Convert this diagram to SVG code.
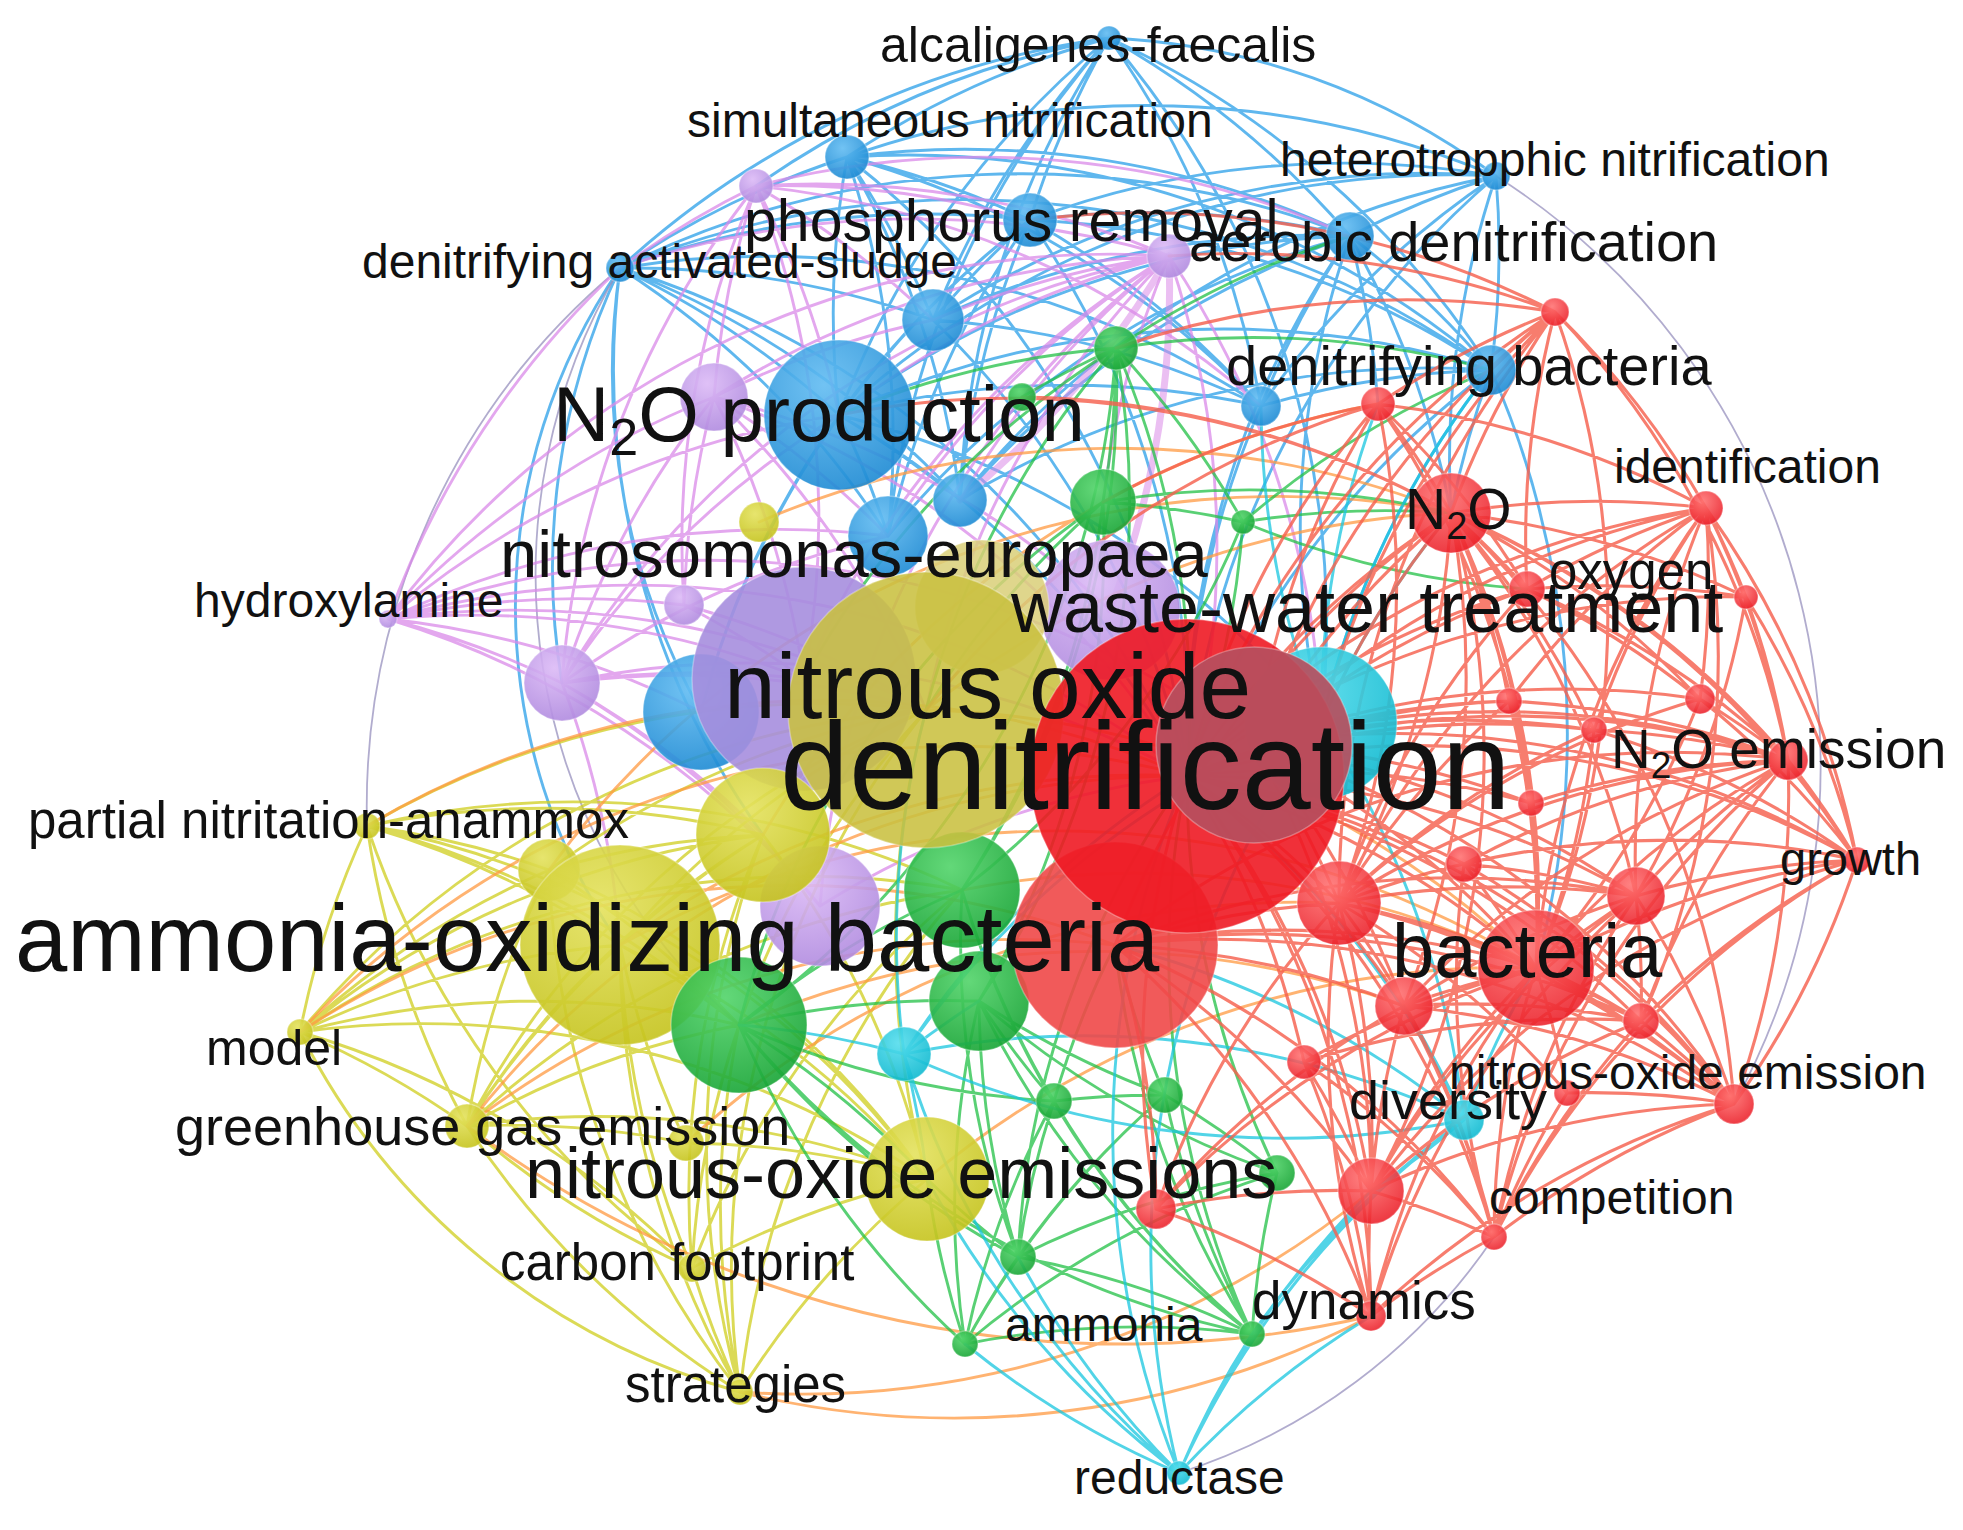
<svg xmlns="http://www.w3.org/2000/svg" width="1963" height="1530" viewBox="0 0 1963 1530">
<defs>
<radialGradient id="gr" cx="40%" cy="30%" r="75%"><stop offset="0" stop-color="#ff7070"/><stop offset="1" stop-color="#ea1a24"/></radialGradient>
<radialGradient id="gb" cx="40%" cy="30%" r="75%"><stop offset="0" stop-color="#62bcf2"/><stop offset="1" stop-color="#1a88d2"/></radialGradient>
<radialGradient id="gp" cx="40%" cy="30%" r="75%"><stop offset="0" stop-color="#dcbaf6"/><stop offset="1" stop-color="#ae88de"/></radialGradient>
<radialGradient id="gy" cx="40%" cy="30%" r="75%"><stop offset="0" stop-color="#e4e25e"/><stop offset="1" stop-color="#c4c21a"/></radialGradient>
<radialGradient id="gg" cx="40%" cy="30%" r="75%"><stop offset="0" stop-color="#52d46a"/><stop offset="1" stop-color="#15a333"/></radialGradient>
<radialGradient id="gc" cx="40%" cy="30%" r="75%"><stop offset="0" stop-color="#55dded"/><stop offset="1" stop-color="#0cb8cf"/></radialGradient>
</defs>
<style>
.e{fill:none;stroke-width:2.9;stroke-linecap:round;stroke-opacity:.75}
.eb{stroke:#2a9fe8}.ep{stroke:#da8ae8}.ey{stroke:#cfcd1e}.eo{stroke:#ff9a42}.eg{stroke:#22c046}.ec{stroke:#18c6df}.er{stroke:#f5604e;stroke-opacity:.82;stroke-width:3.1}.ex{stroke:#9790be;stroke-width:1.8}
circle{stroke:#ffffff;stroke-opacity:.3;stroke-width:1.5}
.r{fill:url(#gr);fill-opacity:.88}.b{fill:url(#gb);fill-opacity:.9}.p{fill:url(#gp);fill-opacity:.9}.y{fill:url(#gy);fill-opacity:.9}.g{fill:url(#gg);fill-opacity:.9}.c{fill:url(#gc);fill-opacity:.9}
.t{font-family:"Liberation Sans",Arial,Helvetica,sans-serif;fill:#111}
</style>
<rect width="1963" height="1530" fill="#fff"/>
<g id="connectors">
<path class="e eb" d="M847 157A900 900 0 0 1 1109 38M1030 220A900 900 0 0 1 1109 38M1109 38A900 900 0 0 1 1350 236M1109 38A700 700 0 0 1 1496 176M620 268A900 900 0 0 1 1109 38M933 320A900 900 0 0 1 1109 38M839 415A900 900 0 0 1 1109 38M1109 38A900 900 0 0 1 1491 370M1109 38A900 900 0 0 1 1261 406M960 500A900 900 0 0 1 1109 38M756 186A900 900 0 0 1 1109 38M888 536A900 900 0 0 1 1109 38M1109 38A900 900 0 0 1 1321 723M620 268A900 900 0 0 1 847 157M847 157A900 900 0 0 1 1030 220M847 157A900 900 0 0 1 1350 236M847 157A900 900 0 0 1 1496 176M847 157A900 900 0 0 1 933 320M839 415A900 900 0 0 1 847 157M847 157A900 900 0 0 1 1261 406M847 157A900 900 0 0 1 1491 370M847 157A900 900 0 0 1 960 500M847 157A900 900 0 0 1 888 536M847 157A900 900 0 0 1 1187 776M620 268A900 900 0 0 1 1030 220M620 268A900 900 0 0 1 1350 236M620 268A900 900 0 0 1 839 415M620 268A900 900 0 0 1 933 320M620 268A900 900 0 0 1 888 536M620 268A900 900 0 0 1 960 500M620 268A900 900 0 0 1 1261 406M620 268A900 900 0 0 1 1491 370M701 712A700 700 0 0 1 620 268M620 945A600 600 0 0 1 620 268M562 683A700 700 0 0 1 620 268M620 268A900 900 0 0 1 1187 776M763 835A800 800 0 0 1 620 268M1030 220A900 900 0 0 1 1496 176M1350 236A900 900 0 0 1 1496 176M1496 176A900 900 0 0 1 1491 370M1261 406A900 900 0 0 1 1496 176M933 320A900 900 0 0 1 1496 176M839 415A900 900 0 0 1 1496 176M960 500A900 900 0 0 1 1496 176M1451 513A900 900 0 0 1 1496 176M1187 776A900 900 0 0 1 1496 176M1030 220A900 900 0 0 1 1350 236M933 320A900 900 0 0 1 1350 236M839 415A900 900 0 0 1 1350 236M1350 236A900 900 0 0 1 1491 370M1261 406A900 900 0 0 1 1350 236M960 500A900 900 0 0 1 1350 236M888 536A900 900 0 0 1 1350 236M1187 776A900 900 0 0 1 1350 236M1321 723A900 900 0 0 1 1350 236M1350 236A900 900 0 0 1 1451 513M1350 236A900 900 0 0 1 1378 404M933 320A900 900 0 0 1 1030 220M839 415A900 900 0 0 1 1030 220M960 500A900 900 0 0 1 1030 220M888 536A900 900 0 0 1 1030 220M1030 220A900 900 0 0 1 1491 370M1030 220A900 900 0 0 1 1261 406M1030 220A900 900 0 0 1 1187 776M701 712A900 900 0 0 1 1030 220M839 415A900 900 0 0 1 1491 370M1261 406A900 900 0 0 1 1491 370M1451 513A900 900 0 0 1 1491 370M1187 776A900 900 0 0 1 1491 370M1321 723A900 900 0 0 1 1491 370M960 500A900 900 0 0 1 1491 370M1491 370A900 900 0 0 1 1536 968M701 712A900 900 0 0 1 839 415M839 415A900 900 0 0 1 888 536M839 415A900 900 0 0 1 960 500M839 415A900 900 0 0 1 1261 406M839 415A900 900 0 0 1 1187 776M839 415A900 900 0 0 1 1321 723M1187 776A900 900 0 0 1 1261 406M933 320A900 900 0 0 1 1261 406M933 320A900 900 0 0 1 1187 776"/>
<path class="e ex" d="M1496 176A700 700 0 0 1 1734 1104M739 1025A600 600 0 0 1 620 268M367 826A700 700 0 0 1 620 268M1494 1237A600 600 0 0 1 1179 1473"/>
<path class="e ep" d="M756 186A900 900 0 0 1 1030 220M756 186A900 900 0 0 1 1169 256M714 397A900 900 0 0 1 756 186M756 186A900 900 0 0 1 839 415M756 186A900 900 0 0 1 933 320M756 186A900 900 0 0 1 804 679M562 683A900 900 0 0 1 756 186M684 605A900 900 0 0 1 756 186M620 268A900 900 0 0 1 756 186M756 186A900 900 0 0 1 1350 236M756 186A900 900 0 0 1 1261 406M714 397A900 900 0 0 1 1169 256M804 679A900 900 0 0 1 1169 256M839 415A900 900 0 0 1 1169 256M933 320A900 900 0 0 1 1169 256M888 536A900 900 0 0 1 1169 256M960 500A900 900 0 0 1 1169 256M926 710A900 900 0 0 1 1169 256M562 683A900 900 0 0 1 1169 256M1169 256A900 900 0 0 1 1187 776M1169 256A900 900 0 0 1 1321 723M1103 502A900 900 0 0 1 1169 256M820 906A900 900 0 0 1 1169 256M620 268A900 900 0 0 1 1169 256M388 619A900 900 0 0 1 714 397M388 619A900 900 0 0 1 804 679M388 619A900 900 0 0 1 562 683M388 619A900 900 0 0 1 684 605M388 619A900 900 0 0 1 839 415M388 619A900 900 0 0 1 888 536M388 619A900 900 0 0 1 926 710M388 619A900 900 0 0 1 820 906M388 619A900 900 0 0 1 1187 776M388 619A900 900 0 0 1 620 268M388 619A900 900 0 0 1 701 712M388 619A900 900 0 0 1 1169 256M388 619A900 900 0 0 1 1254 745M562 683A900 900 0 0 1 804 679M562 683A900 900 0 0 1 714 397M562 683A900 900 0 0 1 620 945M562 683A900 900 0 0 1 763 835M562 683A900 900 0 0 1 820 906M562 683A900 900 0 0 1 839 415M562 683A900 900 0 0 1 888 536M562 683A900 900 0 0 1 926 710M562 683A900 900 0 0 1 1187 776M714 397A900 900 0 0 1 804 679M714 397A900 900 0 0 1 888 536M684 605A900 900 0 0 1 714 397M714 397A900 900 0 0 1 926 710M714 397A900 900 0 0 1 1187 776M714 397A900 900 0 0 1 933 320M714 397A900 900 0 0 1 1110 610M684 605A900 900 0 0 1 804 679M684 605A900 900 0 0 1 926 710M820 906A900 900 0 0 1 1187 776"/>
<path class="e ep" style="stroke-width:7;stroke-opacity:.55" d="M1169 256A900 900 0 0 1 1110 610M1169 256A900 900 0 0 1 960 500"/>
<path class="e ey" d="M300 1032A900 900 0 0 1 620 945M300 1032A900 900 0 0 1 549 870M300 1032A900 900 0 0 1 763 835M300 1032A900 900 0 0 1 467 1126M300 1032A900 900 0 0 1 927 1179M300 1032A900 900 0 0 1 692 1268M300 1032A900 900 0 0 1 367 826M300 1032A900 900 0 0 1 926 710M300 1032A900 900 0 0 1 739 1025M740 1392A700 700 0 0 1 300 1032M740 1392A900 900 0 0 1 467 1126M367 826A900 900 0 0 1 620 945M367 826A900 900 0 0 1 549 870M367 826A900 900 0 0 1 763 835M367 826A900 900 0 0 1 926 710M367 826A900 900 0 0 1 927 1179M467 1126A900 900 0 0 1 367 826M692 1268A900 900 0 0 1 367 826M367 826A900 900 0 0 1 739 1025M467 1126A900 900 0 0 1 620 945M467 1126A900 900 0 0 1 549 870M467 1126A900 900 0 0 1 927 1179M692 1268A900 900 0 0 1 467 1126M467 1126A900 900 0 0 1 763 835M467 1126A900 900 0 0 1 926 710M467 1126A900 900 0 0 1 739 1025M467 1126A900 900 0 0 1 686 1143M692 1268A900 900 0 0 1 620 945M692 1268A900 900 0 0 1 927 1179M740 1392A900 900 0 0 1 692 1268M692 1268A900 900 0 0 1 763 835M692 1268A900 900 0 0 1 926 710M692 1268A900 900 0 0 1 739 1025M740 1392A900 900 0 0 1 620 945M740 1392A900 900 0 0 1 927 1179M740 1392A900 900 0 0 1 763 835M740 1392A900 900 0 0 1 926 710M740 1392A900 900 0 0 1 739 1025M740 1392A900 900 0 0 1 549 870M620 945A900 900 0 0 1 763 835M620 945A900 900 0 0 1 926 710M620 945A900 900 0 0 1 927 1179M620 945A900 900 0 0 1 739 1025M549 870A900 900 0 0 1 926 710M549 870A900 900 0 0 1 927 1179M927 1179A900 900 0 0 1 926 710M763 835A900 900 0 0 1 927 1179M686 1143A900 900 0 0 1 927 1179M686 1143A900 900 0 0 1 620 945M549 870A900 900 0 0 1 763 835M549 870A900 900 0 0 1 739 1025M467 1126A900 900 0 0 1 962 890M692 1268A900 900 0 0 1 962 890M740 1392A900 900 0 0 1 962 890M300 1032A900 900 0 0 1 962 890M367 826A900 900 0 0 1 962 890"/>
<path class="e eo" d="M1371 1316A900 900 0 0 1 740 1392M1371 1191A900 900 0 0 1 740 1392M1371 1316A1100 1100 0 0 1 467 1126M927 1179A900 900 0 0 1 1536 968M620 945A900 900 0 0 1 1536 968M300 1032A900 900 0 0 1 1115 945M759 522A900 900 0 0 1 1451 513M549 870A900 900 0 0 1 1451 513M763 835A900 900 0 0 1 1378 404M926 710A900 900 0 0 1 1451 513M739 1025A900 900 0 0 1 1404 1006M686 1143A900 900 0 0 1 1339 903M467 1126A900 900 0 0 1 1115 945M467 1126A900 900 0 0 1 1187 776M620 945A900 900 0 0 1 1187 776M300 1032A900 900 0 0 1 1187 776M367 826A900 900 0 0 1 1187 776M926 710A900 900 0 0 1 1536 968M962 890A900 900 0 0 1 1536 968"/>
<path class="e eg" d="M965 1344A900 900 0 0 1 1018 1257M965 1344A900 900 0 0 1 1252 1334M965 1344A900 900 0 0 1 1054 1101M965 1344A900 900 0 0 1 739 1025M965 1344A900 900 0 0 1 979 1001M965 1344A900 900 0 0 1 1165 1095M965 1344A900 900 0 0 1 927 1179M965 1344A900 900 0 0 1 1277 1173M1018 1257A900 900 0 0 1 1252 1334M1252 1334A900 900 0 0 1 1277 1173M1252 1334A900 900 0 0 1 1165 1095M1252 1334A900 900 0 0 1 1054 1101M1252 1334A900 900 0 0 1 979 1001M1252 1334A900 900 0 0 1 962 890M1252 1334A900 900 0 0 1 1187 776M1252 1334A900 900 0 0 1 1115 945M1252 1334A900 900 0 0 1 739 1025M1018 1257A900 900 0 0 1 1054 1101M1018 1257A900 900 0 0 1 1165 1095M1018 1257A900 900 0 0 1 1277 1173M1018 1257A900 900 0 0 1 739 1025M1018 1257A900 900 0 0 1 979 1001M1018 1257A900 900 0 0 1 927 1179M1018 1257A900 900 0 0 1 962 890M1018 1257A900 900 0 0 1 1187 776M1116 348A900 900 0 0 1 1103 502M1022 397A900 900 0 0 1 1116 348M1116 348A900 900 0 0 1 962 890M1116 348A900 900 0 0 1 979 1001M839 415A900 900 0 0 1 1116 348M804 679A900 900 0 0 1 1116 348M926 710A900 900 0 0 1 1116 348M1116 348A900 900 0 0 1 1187 776M1116 348A900 900 0 0 1 1243 522M1116 348A900 900 0 0 1 1350 236M1116 348A900 900 0 0 1 1491 370M1116 348A900 900 0 0 1 739 1025M1103 502A900 900 0 0 1 1243 522M1103 502A900 900 0 0 1 962 890M1103 502A900 900 0 0 1 979 1001M1103 502A900 900 0 0 1 1451 513M739 1025A900 900 0 0 1 1103 502M926 710A900 900 0 0 1 1103 502M1243 522A900 900 0 0 1 1451 513M1243 522A900 900 0 0 1 962 890M1243 522A900 900 0 0 1 1187 776M1243 522A900 900 0 0 1 1491 370M1527 589A900 900 0 0 1 1243 522M1054 1101A900 900 0 0 1 962 890M1054 1101A900 900 0 0 1 979 1001M1054 1101A900 900 0 0 1 1165 1095M1054 1101A900 900 0 0 1 1115 945M1054 1101A900 900 0 0 1 739 1025M1165 1095A900 900 0 0 1 1277 1173M1165 1095A900 900 0 0 1 1115 945M1165 1095A900 900 0 0 1 979 1001M1277 1173A900 900 0 0 1 1187 776M1277 1173A900 900 0 0 1 979 1001M739 1025A900 900 0 0 1 962 890M739 1025A900 900 0 0 1 979 1001M739 1025A900 900 0 0 1 927 1179"/>
<path class="e ec" d="M1179 1473A900 900 0 0 1 965 1344M1179 1473A900 900 0 0 1 1018 1257M1179 1473A900 900 0 0 1 904 1054M1179 1473A900 900 0 0 1 1464 1120M1179 1473A900 900 0 0 1 1371 1316M1179 1473A900 900 0 0 1 1371 1191M1179 1473A900 900 0 0 1 927 1179M1179 1473A900 900 0 0 1 1252 1334M1179 1473A900 900 0 0 1 1187 776M1179 1473A900 900 0 0 1 1321 723M1321 723A900 900 0 0 1 1464 1120M904 1054A900 900 0 0 1 1464 1120M1464 1120A900 900 0 0 1 1536 968M1464 1120A900 900 0 0 1 1371 1191M1404 1006A900 900 0 0 1 1464 1120M1115 945A900 900 0 0 1 1464 1120M1187 776A900 900 0 0 1 1464 1120M1252 1334A900 900 0 0 1 1464 1120M1321 723A900 900 0 0 1 1491 370M1321 723A900 900 0 0 1 1261 406M1321 723A900 900 0 0 1 1451 513M904 1054A900 900 0 0 1 1321 723M1321 723A900 900 0 0 1 1378 404M904 1054A900 900 0 0 1 926 710M739 1025A900 900 0 0 1 904 1054M904 1054A900 900 0 0 1 979 1001M904 1054A900 900 0 0 1 1187 776M904 1054A900 900 0 0 1 927 1179M1464 1120A900 900 0 0 1 904 1054"/>
<path class="e er" d="M1451 513A900 900 0 0 1 1788 760M1706 508A900 900 0 0 1 1788 760M1536 968A900 900 0 0 1 1788 760M1636 896A900 900 0 0 1 1788 760M1641 1021A900 900 0 0 1 1788 760M1788 760A900 900 0 0 1 1857 860M1788 760A900 900 0 0 1 1734 1104M1509 701A900 900 0 0 1 1788 760M1594 730A900 900 0 0 1 1788 760M1531 803A900 900 0 0 1 1788 760M1700 699A900 900 0 0 1 1788 760M1187 776A900 900 0 0 1 1788 760M1254 745A900 900 0 0 1 1788 760M1339 903A900 900 0 0 1 1788 760M1464 864A900 900 0 0 1 1788 760M1404 1006A900 900 0 0 1 1788 760M1494 1237A900 900 0 0 1 1788 760M1746 597A900 900 0 0 1 1788 760M1527 589A900 900 0 0 1 1788 760M1536 968A900 900 0 0 1 1857 860M1636 896A900 900 0 0 1 1857 860M1641 1021A900 900 0 0 1 1857 860M1857 860A900 900 0 0 1 1734 1104M1494 1237A900 900 0 0 1 1857 860M1339 903A900 900 0 0 1 1857 860M1464 864A900 900 0 0 1 1857 860M1187 776A900 900 0 0 1 1857 860M1706 508A900 900 0 0 1 1857 860M1371 1191A900 900 0 0 1 1857 860M1594 730A900 900 0 0 1 1857 860M1451 513A900 900 0 0 1 1857 860M1536 968A900 900 0 0 1 1734 1104M1636 896A900 900 0 0 1 1734 1104M1641 1021A900 900 0 0 1 1734 1104M1494 1237A900 900 0 0 1 1734 1104M1371 1191A900 900 0 0 1 1734 1104M1404 1006A900 900 0 0 1 1734 1104M1567 1093A900 900 0 0 1 1734 1104M1339 903A900 900 0 0 1 1734 1104M1187 776A900 900 0 0 1 1734 1104M1115 945A900 900 0 0 1 1734 1104M1451 513A900 900 0 0 1 1734 1104M1371 1316A900 900 0 0 1 1734 1104M1451 513A900 900 0 0 1 1706 508M1527 589A900 900 0 0 1 1706 508M1706 508A900 900 0 0 1 1746 597M1706 508A900 900 0 0 1 1700 699M1509 701A900 900 0 0 1 1706 508M1594 730A900 900 0 0 1 1706 508M1536 968A900 900 0 0 1 1706 508M1636 896A900 900 0 0 1 1706 508M1187 776A900 900 0 0 1 1706 508M1254 745A900 900 0 0 1 1706 508M1339 903A900 900 0 0 1 1706 508M1378 404A900 900 0 0 1 1706 508M1451 513A900 900 0 0 1 1555 312M1378 404A900 900 0 0 1 1555 312M1187 776A900 900 0 0 1 1555 312M1254 745A900 900 0 0 1 1555 312M1527 589A900 900 0 0 1 1555 312M1555 312A900 900 0 0 1 1536 968M1491 370A900 900 0 0 1 1555 312M1339 903A900 900 0 0 1 1555 312M1321 723A900 900 0 0 1 1555 312M1116 348A900 900 0 0 1 1555 312M1169 256A900 900 0 0 1 1555 312M1030 220A900 900 0 0 1 1555 312M1378 404A900 900 0 0 1 1451 513M1187 776A900 900 0 0 1 1378 404M1254 745A900 900 0 0 1 1378 404M1378 404A900 900 0 0 1 1339 903M1378 404A900 900 0 0 1 1536 968M1378 404A900 900 0 0 1 1527 589M1103 502A900 900 0 0 1 1378 404M926 710A900 900 0 0 1 1378 404M1187 776A900 900 0 0 1 1451 513M1254 745A900 900 0 0 1 1451 513M1115 945A900 900 0 0 1 1451 513M1451 513A900 900 0 0 1 1339 903M1451 513A900 900 0 0 1 1536 968M1451 513A900 900 0 0 1 1527 589M1451 513A900 900 0 0 1 1509 701M1451 513A900 900 0 0 1 1594 730M1451 513A900 900 0 0 1 1531 803M1451 513A900 900 0 0 1 1700 699M1451 513A900 900 0 0 1 1636 896M1451 513A900 900 0 0 1 1404 1006M1451 513A900 900 0 0 1 1371 1191M1451 513A900 900 0 0 1 1746 597M1321 723A900 900 0 0 1 1451 513M1022 397A900 900 0 0 1 1451 513M839 415A900 900 0 0 1 1451 513M1494 1237A900 900 0 0 1 1536 968M1404 1006A900 900 0 0 1 1494 1237M1371 1191A900 900 0 0 1 1494 1237M1494 1237A900 900 0 0 1 1641 1021M1494 1237A900 900 0 0 1 1567 1093M1494 1237A900 900 0 0 1 1636 896M1187 776A900 900 0 0 1 1494 1237M1115 945A900 900 0 0 1 1494 1237M1339 903A900 900 0 0 1 1494 1237M1304 1062A900 900 0 0 1 1494 1237M1494 1237A900 900 0 0 1 1464 864M1371 1316A900 900 0 0 1 1371 1191M1371 1316A900 900 0 0 1 1404 1006M1371 1316A900 900 0 0 1 1536 968M1304 1062A900 900 0 0 1 1371 1316M1115 945A900 900 0 0 1 1371 1316M1187 776A900 900 0 0 1 1371 1316M1156 1209A900 900 0 0 1 1371 1316M1371 1316A900 900 0 0 1 1339 903M1371 1316A900 900 0 0 1 1494 1237M1371 1316A900 900 0 0 1 1636 896M1187 776A900 900 0 0 1 1536 968M1254 745A900 900 0 0 1 1536 968M1115 945A900 900 0 0 1 1536 968M1339 903A900 900 0 0 1 1536 968M1464 864A900 900 0 0 1 1536 968M1536 968A900 900 0 0 1 1636 896M1404 1006A900 900 0 0 1 1536 968M1536 968A900 900 0 0 1 1641 1021M1304 1062A900 900 0 0 1 1536 968M1536 968A900 900 0 0 1 1567 1093M1371 1191A900 900 0 0 1 1536 968M1156 1209A900 900 0 0 1 1536 968M1509 701A900 900 0 0 1 1536 968M1594 730A900 900 0 0 1 1536 968M1531 803A900 900 0 0 1 1536 968M1700 699A900 900 0 0 1 1536 968M1187 776A900 900 0 0 1 1371 1191M1115 945A900 900 0 0 1 1371 1191M1371 1191A900 900 0 0 1 1404 1006M1339 903A900 900 0 0 1 1371 1191M1156 1209A900 900 0 0 1 1371 1191M1304 1062A900 900 0 0 1 1371 1191M1371 1191A900 900 0 0 1 1641 1021M1115 945A900 900 0 0 1 1156 1209M1156 1209A900 900 0 0 1 1187 776M1156 1209A900 900 0 0 1 1404 1006M1156 1209A900 900 0 0 1 1339 903M1187 776A900 900 0 0 1 1339 903M1254 745A900 900 0 0 1 1339 903M1339 903A900 900 0 0 1 1636 896M1339 903A900 900 0 0 1 1641 1021M1187 776A900 900 0 0 1 1636 896M1636 896A900 900 0 0 1 1641 1021M1254 745A900 900 0 0 1 1636 896M1187 776A900 900 0 0 1 1509 701M1254 745A900 900 0 0 1 1594 730M1187 776A900 900 0 0 1 1531 803M1254 745A900 900 0 0 1 1700 699M1339 903A900 900 0 0 1 1700 699M1187 776A900 900 0 0 1 1527 589M1254 745A900 900 0 0 1 1527 589M1339 903A900 900 0 0 1 1527 589M1527 589A900 900 0 0 1 1746 597M1527 589A900 900 0 0 1 1700 699M1115 945A900 900 0 0 1 1339 903M1115 945A900 900 0 0 1 1404 1006M1187 776A900 900 0 0 1 1464 864M1404 1006A900 900 0 0 1 1641 1021M1339 903A900 900 0 0 1 1567 1093M1254 745A900 900 0 0 1 1857 860M1254 745A900 900 0 0 1 1734 1104M1115 945A900 900 0 0 1 1788 760M1115 945A900 900 0 0 1 1636 896M1254 745A900 900 0 0 1 1404 1006M1254 745A900 900 0 0 1 1371 1191M1187 776A900 900 0 0 1 1404 1006M1187 776A900 900 0 0 1 1304 1062M1187 776A900 900 0 0 1 1641 1021M1187 776A900 900 0 0 1 1746 597M1187 776A900 900 0 0 1 1594 730M1254 745A900 900 0 0 1 1509 701M1254 745A900 900 0 0 1 1531 803M1339 903A900 900 0 0 1 1509 701M1339 903A900 900 0 0 1 1594 730M1404 1006A900 900 0 0 1 1636 896M1464 864A900 900 0 0 1 1636 896M1464 864A900 900 0 0 1 1734 1104M1115 945A900 900 0 0 1 1641 1021M1304 1062A900 900 0 0 1 1641 1021M1371 1191A900 900 0 0 1 1636 896M1706 508A900 900 0 0 1 1641 1021M1746 597A900 900 0 0 1 1857 860M1746 597A900 900 0 0 1 1636 896M1700 699A900 900 0 0 1 1857 860M1555 312A900 900 0 0 1 1706 508M1555 312A900 900 0 0 1 1788 760"/>
</g>
<g id="nodes">
<g id="n-strategies"><circle class="y" cx="740" cy="1392" r="13"/></g>
<g id="n-model"><circle class="y" cx="300" cy="1032" r="13"/></g>
<g id="n-partial-nitritation-anammox"><circle class="y" cx="367" cy="826" r="13"/></g>
<g id="n-carbon-footprint"><circle class="y" cx="692" cy="1268" r="14"/></g>
<g id="n-greenhouse-gas-emission"><circle class="y" cx="467" cy="1126" r="22"/></g>
<g id="n-y8"><circle class="y" cx="686" cy="1143" r="18"/></g>
<g id="n-y13"><circle class="y" cx="759" cy="522" r="20"/></g>
<g id="n-hydroxylamine"><circle class="p" cx="388" cy="619" r="9"/></g>
<g id="n-p7"><circle class="p" cx="756" cy="186" r="17"/></g>
<g id="n-p8"><circle class="p" cx="1169" cy="256" r="22"/></g>
<g id="n-p4"><circle class="p" cx="684" cy="605" r="20"/></g>
<g id="n-p6"><circle class="p" cx="714" cy="397" r="34"/></g>
<g id="n-p3"><circle class="p" cx="562" cy="683" r="38"/></g>
<g id="n-denitrifying-activated-sludge"><circle class="b" cx="620" cy="268" r="14"/></g>
<g id="n-alcaligenes-faecalis"><circle class="b" cx="1109" cy="38" r="12"/></g>
<g id="n-simultaneous-nitrification"><circle class="b" cx="847" cy="157" r="22"/></g>
<g id="n-phosphorus-removal"><circle class="b" cx="1030" cy="220" r="27"/></g>
<g id="n-aerobic-denitrification"><circle class="b" cx="1350" cy="236" r="24"/></g>
<g id="n-heterotropphic-nitrification"><circle class="b" cx="1496" cy="176" r="14"/></g>
<g id="n-b5"><circle class="b" cx="933" cy="320" r="31"/></g>
<g id="n-denitrifying-bacteria"><circle class="b" cx="1491" cy="370" r="25"/></g>
<g id="n-b12"><circle class="b" cx="1261" cy="406" r="20"/></g>
<g id="n-b4"><circle class="b" cx="960" cy="500" r="27"/></g>
<g id="n-g4"><circle class="g" cx="1116" cy="348" r="22"/></g>
<g id="n-g7"><circle class="g" cx="1022" cy="397" r="14"/></g>
<g id="n-g5"><circle class="g" cx="1103" cy="502" r="33"/></g>
<g id="n-g6"><circle class="g" cx="1243" cy="522" r="12"/></g>
<g id="n-g8"><circle class="g" cx="1054" cy="1101" r="18"/></g>
<g id="n-g9"><circle class="g" cx="1165" cy="1095" r="18"/></g>
<g id="n-g10"><circle class="g" cx="1277" cy="1173" r="18"/></g>
<g id="n-g11"><circle class="g" cx="1018" cy="1257" r="18"/></g>
<g id="n-ammonia"><circle class="g" cx="965" cy="1344" r="13"/></g>
<g id="n-g13"><circle class="g" cx="1252" cy="1334" r="13"/></g>
<g id="n-reductase"><circle class="c" cx="1179" cy="1473" r="12"/></g>
<g id="n-diversity"><circle class="c" cx="1464" cy="1120" r="20"/></g>
<g id="n-c2"><circle class="c" cx="904" cy="1054" r="27"/></g>
<g id="n-r20"><circle class="r" cx="1555" cy="312" r="14"/></g>
<g id="n-r21"><circle class="r" cx="1378" cy="404" r="17"/></g>
<g id="n-identification"><circle class="r" cx="1706" cy="508" r="17"/></g>
<g id="n-oxygen"><circle class="r" cx="1527" cy="589" r="18"/></g>
<g id="n-r19"><circle class="r" cx="1746" cy="597" r="12"/></g>
<g id="n-r22"><circle class="r" cx="1509" cy="701" r="13"/></g>
<g id="n-r23"><circle class="r" cx="1594" cy="730" r="13"/></g>
<g id="n-r24"><circle class="r" cx="1531" cy="803" r="13"/></g>
<g id="n-r25"><circle class="r" cx="1700" cy="699" r="15"/></g>
<g id="n-n2o-emission"><circle class="r" cx="1788" cy="760" r="20"/></g>
<g id="n-growth"><circle class="r" cx="1857" cy="860" r="13"/></g>
<g id="n-nitrous-oxide-emission"><circle class="r" cx="1734" cy="1104" r="20"/></g>
<g id="n-r5"><circle class="r" cx="1464" cy="864" r="18"/></g>
<g id="n-r6"><circle class="r" cx="1636" cy="896" r="29"/></g>
<g id="n-r8"><circle class="r" cx="1404" cy="1006" r="29"/></g>
<g id="n-r9"><circle class="r" cx="1641" cy="1021" r="18"/></g>
<g id="n-r10"><circle class="r" cx="1304" cy="1062" r="17"/></g>
<g id="n-r11"><circle class="r" cx="1567" cy="1093" r="13"/></g>
<g id="n-r12"><circle class="r" cx="1371" cy="1191" r="33"/></g>
<g id="n-competition"><circle class="r" cx="1494" cy="1237" r="13"/></g>
<g id="n-r14"><circle class="r" cx="1156" cy="1209" r="20"/></g>
<g id="n-dynamics"><circle class="r" cx="1371" cy="1316" r="15"/></g>
<g id="n-n2o"><circle class="r" cx="1451" cy="513" r="40"/></g>
<g id="n-r4"><circle class="r" cx="1339" cy="903" r="42"/></g>
<g id="n-bacteria"><circle class="r" cx="1536" cy="968" r="58"/></g>
<g id="n-b2"><circle class="b" cx="701" cy="712" r="58"/></g>
<g id="n-p9"><circle class="p" cx="1110" cy="610" r="70"/></g>
<g id="n-b3"><circle class="b" cx="888" cy="536" r="40"/></g>
<g id="n-n2o-production"><circle class="b" cx="839" cy="415" r="75"/></g>
<g id="n-nitrosomonas-europaea"><circle class="p" cx="804" cy="679" r="112" style="fill:#a68ede;fill-opacity:.9"/></g>
<g id="n-y2"><circle class="y" cx="982" cy="607" r="67" style="fill:#d9cf78;fill-opacity:.85"/></g>
<g id="n-p2"><circle class="p" cx="820" cy="906" r="60"/></g>
<g id="n-y3"><circle class="y" cx="763" cy="835" r="67"/></g>
<g id="n-y5"><circle class="y" cx="549" cy="870" r="31"/></g>
<g id="n-ammonia-oxidizing-bacteria"><circle class="y" cx="620" cy="945" r="100"/></g>
<g id="n-g2"><circle class="g" cx="739" cy="1025" r="68"/></g>
<g id="n-g1"><circle class="g" cx="962" cy="890" r="58"/></g>
<g id="n-g3"><circle class="g" cx="979" cy="1001" r="50"/></g>
<g id="n-nitrous-oxide-emissions"><circle class="y" cx="927" cy="1179" r="62"/></g>
<g id="n-nitrous-oxide"><circle class="y" cx="926" cy="710" r="138" style="fill:#c9c040;fill-opacity:.88"/></g>
<g id="n-waste-water-treatment"><circle class="c" cx="1321" cy="723" r="76"/></g>
<g id="n-r3"><circle class="r" cx="1115" cy="945" r="103" style="fill:#f04848;fill-opacity:.9"/></g>
<g id="n-denitrification"><circle class="r" cx="1187" cy="776" r="157" style="fill:#ee1a24;fill-opacity:.9"/></g>
<g id="n-r2"><circle class="r" cx="1254" cy="745" r="98" style="fill:#b64f5e;fill-opacity:.92"/></g>
</g>
<g id="labels" class="t">
<text x="880" y="62" font-size="50">alcaligenes-faecalis</text>
<text x="687" y="137" font-size="48">simultaneous nitrification</text>
<text x="1280" y="176" font-size="48">heterotropphic nitrification</text>
<text x="744" y="241" font-size="59">phosphorus removal</text>
<text x="1189" y="261" font-size="56">aerobic denitrification</text>
<text x="362" y="278" font-size="48">denitrifying activated-sludge</text>
<text x="1226" y="385" font-size="56">denitrifying bacteria</text>
<text x="553" y="441" font-size="78">N<tspan font-size="52" dy="14">2</tspan><tspan dy="-14">O production</tspan></text>
<text x="1614" y="483" font-size="48">identification</text>
<text x="1405" y="529" font-size="57">N<tspan font-size="38" dy="10">2</tspan><tspan dy="-10">O</tspan></text>
<text x="500" y="577" font-size="67">nitrosomonas-europaea</text>
<text x="194" y="617" font-size="48">hydroxylamine</text>
<text x="1549" y="589" font-size="51">oxygen</text>
<text x="1011" y="632" font-size="72">waste-water treatment</text>
<text x="724" y="718" font-size="93">nitrous oxide</text>
<text x="780" y="809" font-size="124">denitrification</text>
<text x="1611" y="768" font-size="55">N<tspan font-size="37" dy="10">2</tspan><tspan dy="-10">O emission</tspan></text>
<text x="28" y="838" font-size="51">partial nitritation-anammox</text>
<text x="1780" y="875" font-size="47">growth</text>
<text x="15" y="971" font-size="94">ammonia-oxidizing bacteria</text>
<text x="1392" y="977" font-size="76">bacteria</text>
<text x="206" y="1065" font-size="50">model</text>
<text x="1449" y="1089" font-size="48">nitrous-oxide emission</text>
<text x="1349" y="1119" font-size="54">diversity</text>
<text x="175" y="1145" font-size="54">greenhouse gas emission</text>
<text x="525" y="1198" font-size="72">nitrous-oxide emissions</text>
<text x="1489" y="1214" font-size="48">competition</text>
<text x="500" y="1280" font-size="51">carbon footprint</text>
<text x="1252" y="1319" font-size="53">dynamics</text>
<text x="1005" y="1341" font-size="48">ammonia</text>
<text x="625" y="1402" font-size="51">strategies</text>
<text x="1074" y="1494" font-size="48">reductase</text>
</g>
</svg>
